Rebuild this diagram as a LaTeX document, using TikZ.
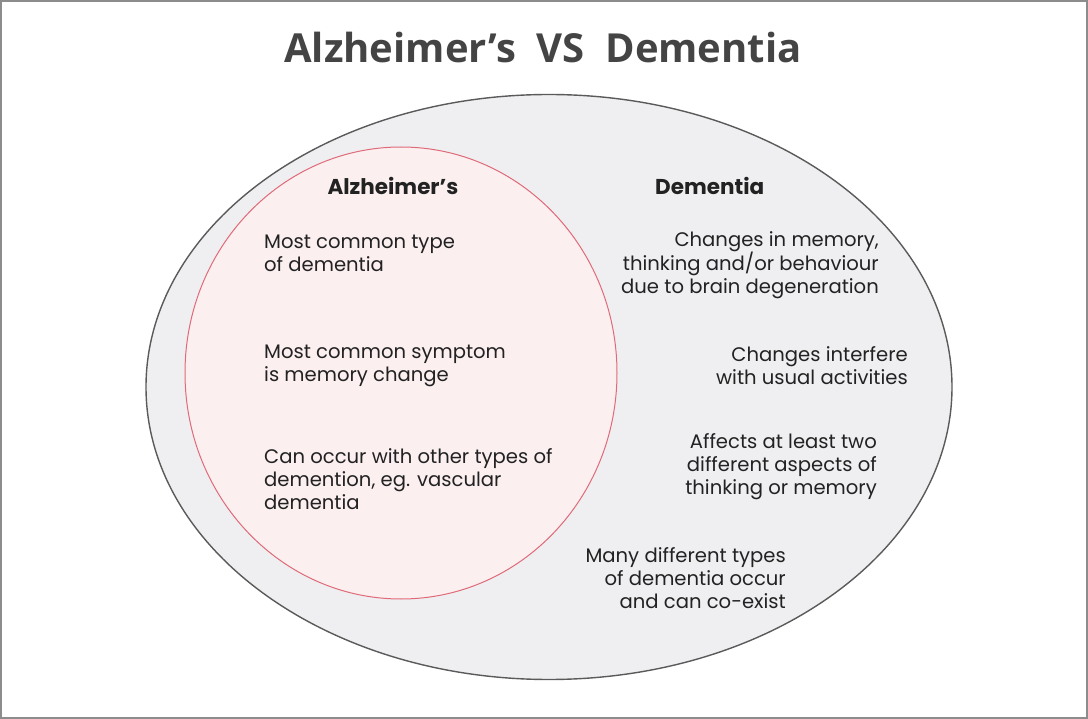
\documentclass[tikz,border=0pt]{standalone}
\usepackage{fontspec}
\setmainfont{Poppins}
\newfontfamily\titlefont{Open Sans}
\usepackage{xcolor}
\usepackage{tikz}
\usetikzlibrary{positioning}

\definecolor{framegray}{HTML}{8C8C8C}
\definecolor{outerfill}{HTML}{EFEFF2}
\definecolor{outerline}{HTML}{5A5A5A}
\definecolor{innerfill}{HTML}{FBEFF0}
\definecolor{innerline}{HTML}{E06A78}
\definecolor{titlegray}{HTML}{444444}
\definecolor{textdark}{HTML}{222222}

\begin{document}
\begin{tikzpicture}[
      x=1pt, y=-1pt,
      heading/.style={
        font=\bfseries\fontsize{21.5}{24}\selectfont,
        text=textdark,
        inner sep=0pt
      },
      lefttext/.style={
        font=\fontsize{19.6}{23}\selectfont,
        text=textdark,
        inner sep=0pt,
        align=left,
        anchor=base west
      },
      righttext/.style={
        font=\fontsize{19.6}{23}\selectfont,
        text=textdark,
        inner sep=0pt,
        align=right,
        anchor=base east
      }
    ]

    % frame of the picture
    \useasboundingbox (0,0) rectangle (1088,719);
    \draw[framegray, line width=2pt] (1,1) rectangle (1087,718);

    \node[font=\titlefont\bfseries\fontsize{40}{44}\selectfont, text=titlegray,
      anchor=base, inner sep=0pt] (title) at (543,63) {Alzheimer’s\ \ VS\ \ Dementia};

    % the two sets
    \draw[outerline, fill=outerfill, line width=1.4pt] (549,387)
      ellipse [x radius=403pt, y radius=292.5pt];
    \draw[innerline, fill=innerfill, line width=1pt] (401,373)
      ellipse [x radius=216pt, y radius=226pt];

    \node[heading, anchor=base] (alzhead) at (393,195) {Alzheimer’s};
    \node[heading, anchor=base west] (demhead) at (655,195) {Dementia};

    % Alzheimer's facts (anchored at the last line)
    \node[lefttext] (alzone) at (264,272) {Most common type\\of dementia};
    \node[lefttext] (alztwo) at (264,382) {Most common symptom\\is memory change};
    \node[lefttext] (alzthree) at (264,509) {Can occur with other types of\\demention, eg. vascular\\dementia};

    % dementia facts
    \node[righttext] (demone) at (879,294) {Changes in memory,\\thinking and/or behaviour\\due to brain degeneration};
    \node[righttext] (demtwo) at (908,385) {Changes interfere\\with usual activities};
    \node[righttext] (demthree) at (877,494) {Affects at least two\\different aspects of\\thinking or memory};
    \node[righttext] (demfour) at (786,608) {Many different types\\of dementia occur\\and can co-exist};

    \end{tikzpicture}
\end{document}
